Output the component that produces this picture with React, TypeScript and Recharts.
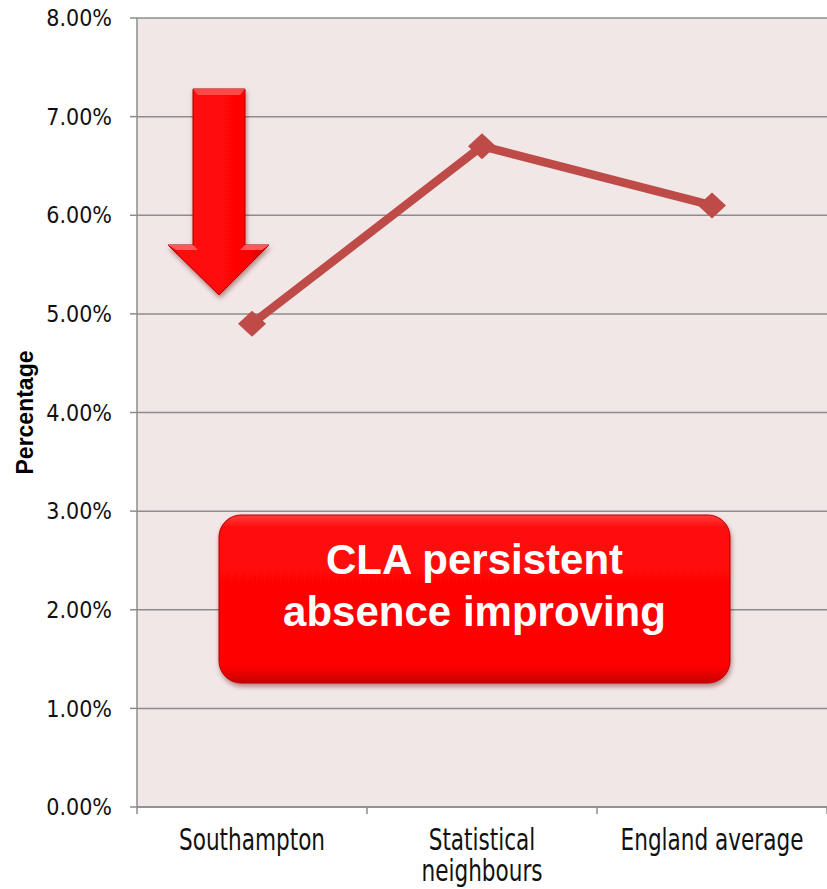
import React from "react";
import { CartesianGrid, Line, LineChart, XAxis, YAxis } from "recharts";

// categories and values
const categories = ["Southampton", "Statistical neighbours", "England average"];
const absenceRate = [0.049, 0.067, 0.061];
const yTicks = [0, 0.01, 0.02, 0.03, 0.04, 0.05, 0.06, 0.07, 0.08];
const wrapped: Record<string, string[]> = {
  "Statistical neighbours": ["Statistical", "neighbours"],
};
const calloutLines = ["CLA persistent", "absence improving"];

const data = categories.map((name, i) => ({ name, rate: absenceRate[i] }));

const GRID = "#8c8c8c";
const LINE = "#be4b48";

const pct = (v: number) => `${(v * 100).toFixed(2)}%`;

function CategoryTick(props: any) {
  const { x, y, payload, index, visibleTicksCount } = props;
  const half = payload?.offset ?? 115;
  const lines = wrapped[payload.value] ?? [payload.value];
  const isLast = index === (visibleTicksCount ?? categories.length) - 1;
  return (
    <g>
      <line x1={x - half} x2={x - half} y1={y} y2={y + 7} stroke={GRID} strokeWidth={1.5} />
      {isLast && (
        <line x1={x + half} x2={x + half} y1={y} y2={y + 7} stroke={GRID} strokeWidth={1.5} />
      )}
      {/* the source chart's labels are stretched tall, so scale the text vertically */}
      <text
        transform={`translate(${x},${y + 43}) scale(1,1.22)`}
        textAnchor="middle"
        fill="#111"
        fontSize={24}
        fontFamily="'DejaVu Sans Condensed', 'DejaVu Sans', sans-serif"
      >
        {lines.map((l: string, i: number) => (
          <tspan key={l} x={0} dy={i === 0 ? 0 : 25.5}>
            {l}
          </tspan>
        ))}
      </text>
    </g>
  );
}

function Diamond(props: any) {
  const { cx, cy, index } = props;
  if (cx == null || cy == null) return <g key={index} />;
  const w = 14;
  const h = 13;
  return (
    <path
      key={index}
      d={`M${cx},${cy - h} L${cx + w},${cy} L${cx},${cy + h} L${cx - w},${cy} Z`}
      fill={LINE}
    />
  );
}

function Callouts() {
  return (
    <svg
      width={827}
      height={889}
      style={{ position: "absolute", left: 0, top: 0, pointerEvents: "none" }}
    >
      <defs>
        <linearGradient id="arrowFill" x1="0" x2="1" y1="0" y2="0">
          <stop offset="0" stopColor="#e80000" />
          <stop offset="0.15" stopColor="#ff0a0a" />
          <stop offset="0.8" stopColor="#ff0505" />
          <stop offset="1" stopColor="#c40000" />
        </linearGradient>
        <linearGradient id="boxFill" x1="0" x2="0" y1="0" y2="1">
          <stop offset="0" stopColor="#ff3a3a" />
          <stop offset="0.08" stopColor="#ff0a0a" />
          <stop offset="0.9" stopColor="#ff0000" />
          <stop offset="1" stopColor="#c80000" />
        </linearGradient>
        <filter id="shadow" x="-10%" y="-10%" width="120%" height="130%">
          <feDropShadow dx="1" dy="3" stdDeviation="2.5" floodColor="#600" floodOpacity="0.45" />
        </filter>
      </defs>
      <g filter="url(#shadow)">
        <path
          d="M193,89 L245,89 L245,245 L269,245 L219,295 L168,245 L193,245 Z"
          fill="url(#arrowFill)"
          stroke="#b00000"
          strokeWidth={1}
        />
        <path d="M193,89 L245,89 L240,95 L198,95 Z" fill="#ff4a4a" />
        <path d="M168,245 L193,245 L198,250 L176,250 Z" fill="#ff5a5a" />
        <path d="M245,245 L269,245 L262,250 L240,250 Z" fill="#ff5a5a" />
      </g>
      <rect
        x={219}
        y={515}
        width={511}
        height={168}
        rx={22}
        fill="url(#boxFill)"
        stroke="#b80000"
        strokeWidth={1}
        filter="url(#shadow)"
      />
      <text
        x={474.5}
        textAnchor="middle"
        fill="#fff"
        fontSize={42}
        fontWeight="bold"
        fontFamily="'Liberation Sans', Arial, sans-serif"
      >
        {calloutLines.map((l, i) => (
          <tspan key={l} x={474.5} y={574 + i * 52}>
            {l}
          </tspan>
        ))}
      </text>
    </svg>
  );
}

export default function App() {
  return (
    <div style={{ position: "absolute", left: 0, top: 0, width: 827, height: 889, background: "#fff" }}>
      <LineChart width={827} height={889} data={data} margin={{ top: 18, right: 0, bottom: 0, left: 0 }}>
        <CartesianGrid vertical={false} horizontalValues={yTicks} stroke={GRID} strokeWidth={1.5} fill="#f2e7e7" />
        <XAxis
          dataKey="name"
          scale="band"
          height={82}
          axisLine={{ stroke: GRID, strokeWidth: 1.5 }}
          tickLine={false}
          tickSize={0}
          tickMargin={0}
          interval={0}
          tick={<CategoryTick />}
        />
        <YAxis
          width={137}
          domain={[0, 0.08]}
          ticks={yTicks}
          interval={0}
          tickFormatter={pct}
          axisLine={{ stroke: GRID, strokeWidth: 1.5 }}
          tickLine={{ stroke: GRID, strokeWidth: 1.5 }}
          tickSize={7}
          tickMargin={18}
          tick={{ fill: "#111", fontSize: 23, fontFamily: "'DejaVu Sans Condensed', 'DejaVu Sans', sans-serif" }}
          label={{
            value: "Percentage",
            angle: -90,
            position: "insideLeft",
            offset: 25,
            style: {
              textAnchor: "middle",
              fontSize: 23,
              fontWeight: "bold",
              fill: "#000",
              fontFamily: "'Liberation Sans', Arial, sans-serif",
            },
          }}
        />
        <Line
          dataKey="rate"
          type="linear"
          stroke={LINE}
          strokeWidth={8.5}
          dot={(p: any) => <Diamond key={p.index} {...p} />}
          activeDot={false}
          isAnimationActive={false}
        />
      </LineChart>
      <Callouts />
    </div>
  );
}
